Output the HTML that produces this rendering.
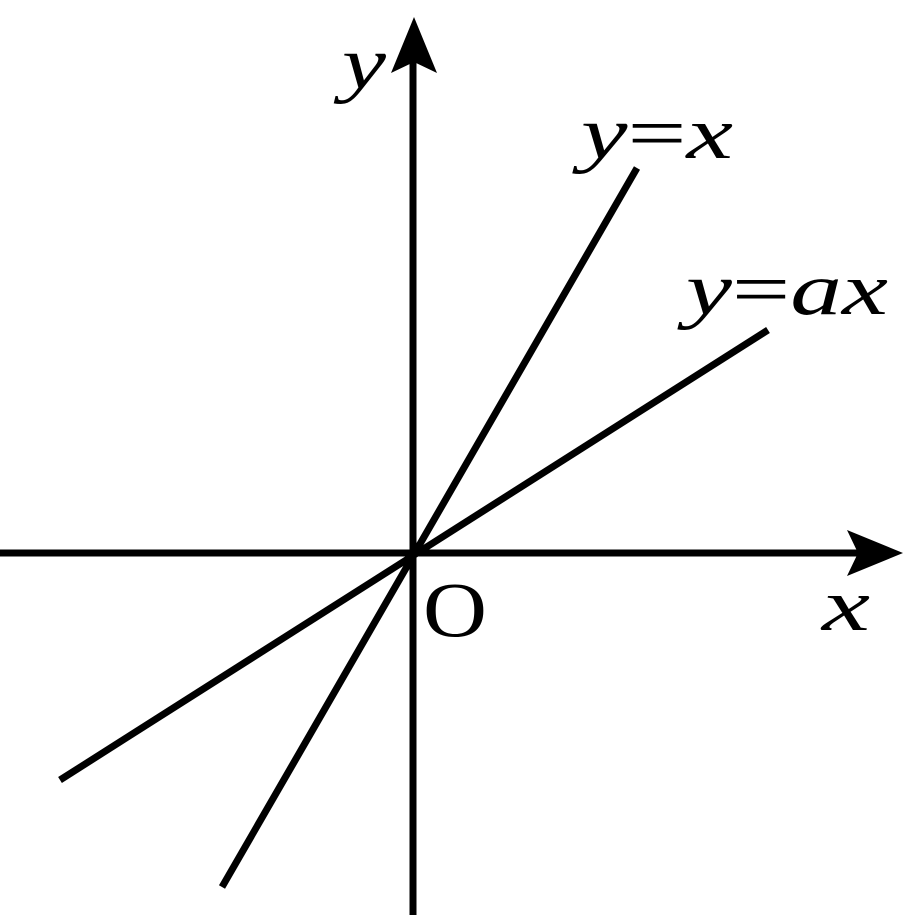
<!DOCTYPE html>
<html><head><style>
html,body{margin:0;padding:0;background:#fff;}
svg{display:block;}
text{font-family:"Liberation Serif",serif;fill:#000;}
</style></head><body>
<svg width="904" height="915" viewBox="0 0 904 915" xmlns="http://www.w3.org/2000/svg">
<g stroke="#000" stroke-width="7" fill="none">
<line x1="0" y1="553" x2="862" y2="553"/>
<line x1="413" y1="915" x2="413" y2="60"/>
<line x1="222" y1="887" x2="637" y2="168"/>
<line x1="60" y1="780" x2="768" y2="330"/>
</g>
<polygon points="414,17 437,73 414,62 391,73" fill="#000"/>
<polygon points="903,553 847,576 858,553 847,530" fill="#000"/>
<text x="342" y="88" font-size="74" font-style="italic" textLength="44" lengthAdjust="spacingAndGlyphs">y</text>
<text x="822" y="630" font-size="74" font-style="italic" textLength="48" lengthAdjust="spacingAndGlyphs">x</text>
<text x="423" y="636" font-size="78" textLength="64" lengthAdjust="spacingAndGlyphs">O</text>
<text x="581" y="158" font-size="74" textLength="152" lengthAdjust="spacingAndGlyphs"><tspan font-style="italic">y</tspan>=<tspan font-style="italic">x</tspan></text>
<text x="686" y="314" font-size="74" textLength="202" lengthAdjust="spacingAndGlyphs"><tspan font-style="italic">y</tspan>=<tspan font-style="italic">ax</tspan></text>
</svg>
</body></html>
